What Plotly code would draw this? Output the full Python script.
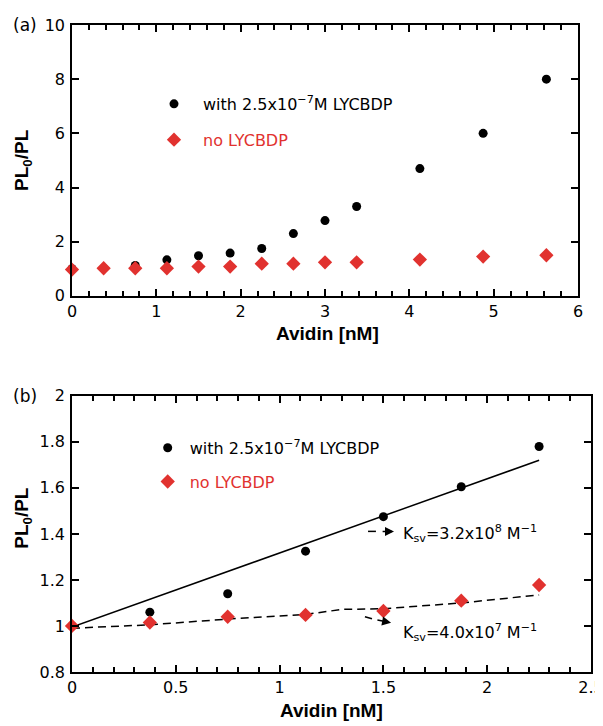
import plotly.graph_objects as go

# ---------------- data ----------------
avidin_a = [0, 0.375, 0.75, 1.125, 1.5, 1.875, 2.25, 2.625, 3.0, 3.375, 4.125, 4.875, 5.625]
with_lycbdp_a = [1.0, 1.02, 1.12, 1.33, 1.48, 1.58, 1.75, 2.3, 2.78, 3.3, 4.7, 6.0, 8.0]
no_lycbdp_a = [0.97, 1.02, 1.02, 1.02, 1.08, 1.08, 1.19, 1.19, 1.24, 1.24, 1.34, 1.45, 1.5]

avidin_b = [0, 0.375, 0.75, 1.125, 1.5, 1.875, 2.25]
with_lycbdp_b = [1.0, 1.06, 1.14, 1.325, 1.475, 1.605, 1.78]
no_lycbdp_b = [1.0, 1.015, 1.04, 1.048, 1.065, 1.11, 1.178]

fit_with_x = [0, 2.25]
fit_with_y = [0.995, 1.72]
fit_no_x = [0, 0.375, 0.75, 1.125, 1.3, 1.5, 1.875, 2.25]
fit_no_y = [0.99, 1.005, 1.03, 1.05, 1.072, 1.075, 1.1, 1.135]

label_with = "with 2.5x10<sup>\u22127</sup>M LYCBDP"
label_no = "no LYCBDP"
ksv_with = "K<sub>sv</sub>=3.2x10<sup>8</sup> M<sup>\u22121</sup>"
ksv_no = "K<sub>sv</sub>=4.0x10<sup>7</sup> M<sup>\u22121</sup>"

RED = "#e1322f"
OFF = 8                      # page body margin of the html page
W, H = 603 - OFF, 726 - OFF  # figure size
# plot-area pixel box in page coordinates
L, R, T, B = 72, 591, 25, 672.3
TICKFONT = dict(family="DejaVu Sans", size=16, color="black")
TITLEFONT = dict(family="Liberation Sans", size=19, color="black")

def px_x(p):
    return (p - L) / (R - L)

def px_y(p):
    return (B - p) / (B - T)

fig = go.Figure()

# panel (a)
fig.add_trace(go.Scatter(x=avidin_a, y=with_lycbdp_a, mode="markers", name=label_with,
                         marker=dict(symbol="circle", size=9, color="black"),
                         xaxis="x", yaxis="y", cliponaxis=False, legend="legend",
                         legendgroup="a1"))
fig.add_trace(go.Scatter(x=avidin_a, y=no_lycbdp_a, mode="markers",
                         name=f"<span style='color:{RED}'>{label_no}</span>",
                         marker=dict(symbol="diamond", size=11, color=RED),
                         xaxis="x", yaxis="y", cliponaxis=False, legend="legend",
                         legendgroup="a2"))

# panel (b)
fig.add_trace(go.Scatter(x=fit_with_x, y=fit_with_y, mode="lines",
                         line=dict(color="black", width=1.5), showlegend=False,
                         xaxis="x2", yaxis="y2"))
fig.add_trace(go.Scatter(x=fit_no_x, y=fit_no_y, mode="lines",
                         line=dict(color="black", width=1.5, dash="8px,5px"), showlegend=False,
                         xaxis="x2", yaxis="y2"))
fig.add_trace(go.Scatter(x=avidin_b, y=with_lycbdp_b, mode="markers", name=label_with,
                         marker=dict(symbol="circle", size=9, color="black"),
                         xaxis="x2", yaxis="y2", cliponaxis=False, legend="legend2",
                         legendgroup="b1"))
fig.add_trace(go.Scatter(x=avidin_b, y=no_lycbdp_b, mode="markers",
                         name=f"<span style='color:{RED}'>{label_no}</span>",
                         marker=dict(symbol="diamond", size=11, color=RED),
                         xaxis="x2", yaxis="y2", cliponaxis=False, legend="legend2",
                         legendgroup="b2"))

axis_common = dict(showline=True, linecolor="black", linewidth=1.5, mirror="ticks",
                   ticks="inside", ticklen=7, tickwidth=1.5, tickcolor="black",
                   showgrid=False, zeroline=False, tickfont=TICKFONT, automargin=False,
                   ticklabeloverflow="allow")
xminor = lambda d: dict(dtick=d, ticks="inside", ticklen=5, tickwidth=1.5, tickcolor="black")

fig.update_layout(
    width=W, height=H,
    margin=dict(l=L - OFF, r=603 - R, t=T - OFF, b=726 - B, autoexpand=False),
    paper_bgcolor="white", plot_bgcolor="white",
    xaxis=dict(domain=[0, px_x(578)], range=[0, 6], dtick=1, anchor="y",
               minor=xminor(0.2), ticklabelstandoff=0, **axis_common),
    yaxis=dict(domain=[px_y(296), 1], range=[0, 10], dtick=2, anchor="x",
               ticklabelstandoff=2, **axis_common),
    xaxis2=dict(domain=[0, 1], range=[0, 2.5], dtick=0.5, anchor="y2",
                minor=xminor(0.1), ticklabelstandoff=0, **axis_common),
    yaxis2=dict(domain=[0, px_y(396)], range=[0.8, 2], dtick=0.2, anchor="x2",
                ticklabelstandoff=2, **axis_common),
    legend=dict(x=px_x(174 - 29), y=px_y(87), xanchor="left", yanchor="top",
                bgcolor="rgba(0,0,0,0)", font=dict(family="DejaVu Sans", size=16, color="black"),
                itemwidth=48, tracegroupgap=12, borderwidth=0),
    legend2=dict(x=px_x(167.7 - 22), y=px_y(431), xanchor="left", yanchor="top",
                 bgcolor="rgba(0,0,0,0)", font=dict(family="DejaVu Sans", size=16, color="black"),
                 itemwidth=34, tracegroupgap=10, borderwidth=0),
    showlegend=True,
)

def note(text, x, y, font, **kw):
    return dict(text=text, x=px_x(x), y=px_y(y), xref="paper", yref="paper",
                xanchor="center", yanchor="middle", showarrow=False, font=font, **kw)

annotations = [
    note("(a)", 24.5, 25, dict(family="DejaVu Sans", size=17, color="black")),
    note("(b)", 24.5, 396, dict(family="DejaVu Sans", size=17, color="black")),
    note("<b>PL<sub>0</sub>/PL</b>", 23, 160, TITLEFONT, textangle=-90),
    note("<b>PL<sub>0</sub>/PL</b>", 23, 518, TITLEFONT, textangle=-90),
    note("<b>Avidin [nM]</b>", 327, 334, TITLEFONT),
    note("<b>Avidin [nM]</b>", 331, 711, TITLEFONT),
    dict(text=ksv_with, x=1.585, y=1.40, xref="x2", yref="y2", xanchor="left",
         yanchor="middle", showarrow=False,
         font=dict(family="DejaVu Sans", size=16, color="black")),
    dict(text=ksv_no, x=1.585, y=0.97, xref="x2", yref="y2", xanchor="left",
         yanchor="middle", showarrow=False,
         font=dict(family="DejaVu Sans", size=16, color="black")),
    # arrow heads
    dict(text="", x=1.551, y=1.411, ax=1.489, ay=1.411, xref="x2", yref="y2",
         axref="x2", ayref="y2", showarrow=True, arrowhead=2, arrowsize=1.2,
         arrowwidth=1.5, arrowcolor="black"),
    dict(text="", x=1.537, y=1.014, ax=1.464, ay=1.027, xref="x2", yref="y2",
         axref="x2", ayref="y2", showarrow=True, arrowhead=2, arrowsize=1.2,
         arrowwidth=1.5, arrowcolor="black"),
]
fig.update_layout(annotations=annotations)

shapes = [
    dict(type="line", x0=1.426, y0=1.411, x1=1.464, y1=1.411, xref="x2", yref="y2",
         line=dict(color="black", width=1.5)),
    dict(type="line", x0=1.411, y0=1.040, x1=1.445, y1=1.031, xref="x2", yref="y2",
         line=dict(color="black", width=1.5)),
]
fig.update_layout(shapes=shapes)

fig.write_html("out.html")
